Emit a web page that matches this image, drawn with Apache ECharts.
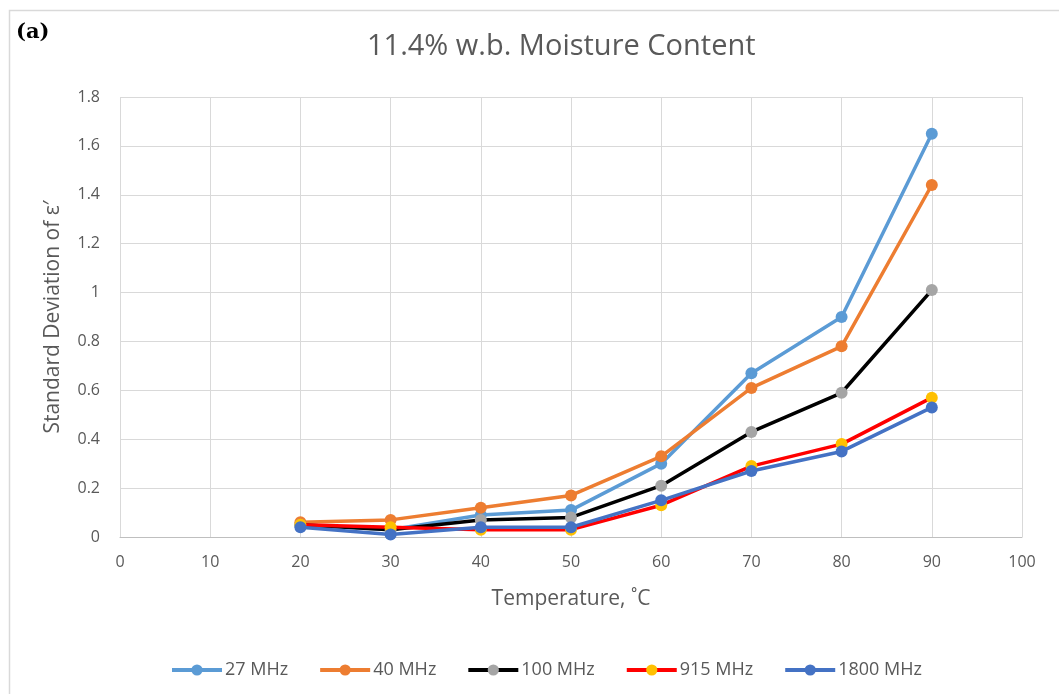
<!DOCTYPE html>
<html>
<head>
<meta charset="utf-8">
<script src="https://cdn.jsdelivr.net/npm/echarts@6/dist/echarts.min.js"></script>
<style>html,body{margin:0;padding:0;background:#fff}#c{width:1059px;height:694px}</style>
</head>
<body>
<div id="c"></div>
<script>
var temperatures = [20, 30, 40, 50, 60, 70, 80, 90];
var seriesNames = ['27 MHz', '40 MHz', '100 MHz', '915 MHz', '1800 MHz'];
var mhz27 = [0.05, 0.03, 0.09, 0.11, 0.30, 0.67, 0.90, 1.65];
var mhz40 = [0.06, 0.07, 0.12, 0.17, 0.33, 0.61, 0.78, 1.44];
var mhz100 = [0.05, 0.03, 0.07, 0.08, 0.21, 0.43, 0.59, 1.01];
var mhz915 = [0.05, 0.04, 0.03, 0.03, 0.13, 0.29, 0.38, 0.57];
var mhz1800 = [0.04, 0.01, 0.04, 0.04, 0.15, 0.27, 0.35, 0.53];
var titleText = '11.4% w.b. Moisture Content';
var xName = 'Temperature, \u02DAC';
var yName = 'Standard Deviation of \u03B5\u2032';

var values = [mhz27, mhz40, mhz100, mhz915, mhz1800];
var lineColors = ['#5B9BD5', '#ED7D31', '#000000', '#FF0000', '#4472C4'];
var markerColors = ['#5B9BD5', '#ED7D31', '#A5A5A5', '#FFC000', '#4472C4'];

function pairs(v) { return temperatures.map(function (t, i) { return [t, v[i]]; }); }

var font = '"Open Sans", "Noto Sans", sans-serif';
var chart = echarts.init(document.getElementById('c'), null, {renderer: 'canvas'});
chart.setOption({
  animation: false,
  backgroundColor: '#fff',
  graphic: [
    {type: 'rect', left: 7, top: 8, shape: {width: 1100, height: 700}, style: {fill: 'none', stroke: '#d9d9d9', lineWidth: 1.5}, z: -1},
    {type: 'text', left: 16, top: 22, style: {text: '(a)', font: 'bold 21px "DejaVu Serif", "Liberation Serif", serif', fill: '#000'}}
  ],
  title: {
    text: titleText, left: 362, top: 27,
    textStyle: {fontFamily: font, fontSize: 29, fontWeight: 'normal', color: '#595959'}
  },
  legend: {
    top: 656, left: 165, itemWidth: 50, itemHeight: 14, itemGap: 30,
    lineStyle: {width: 4},
    textStyle: {fontFamily: font, fontSize: 18, color: '#595959', padding: [0, 0, 0, -2]},
    data: seriesNames
  },
  grid: {left: 120, right: 37, top: 97, bottom: 157},
  xAxis: {
    type: 'value', min: 0, max: 100, interval: 10,
    name: xName, nameLocation: 'middle', nameGap: 52,
    nameTextStyle: {fontFamily: font, fontSize: 21, color: '#595959'},
    axisLine: {show: true, lineStyle: {color: '#bfbfbf', width: 1}},
    axisTick: {show: false},
    axisLabel: {fontFamily: font, fontSize: 16, color: '#595959', margin: 17},
    splitLine: {show: true, lineStyle: {color: '#d9d9d9', width: 1}}
  },
  yAxis: {
    type: 'value', min: 0, max: 1.8, interval: 0.2,
    name: yName, nameLocation: 'middle', nameGap: 56, nameRotate: 90,
    nameTextStyle: {fontFamily: font, fontSize: 21, color: '#595959'},
    axisLine: {show: false},
    axisTick: {show: false},
    axisLabel: {fontFamily: font, fontSize: 16, color: '#595959', margin: 20},
    splitLine: {show: true, lineStyle: {color: '#d9d9d9', width: 1}}
  },
  series: seriesNames.map(function (n, i) {
    return {
      name: n, type: 'line', data: pairs(values[i]),
      symbol: 'circle', symbolSize: 12,
      lineStyle: {color: lineColors[i], width: 3.5},
      itemStyle: {color: markerColors[i], borderWidth: 0},
      z: 2 + i
    };
  })
});
</script>
</body>
</html>
